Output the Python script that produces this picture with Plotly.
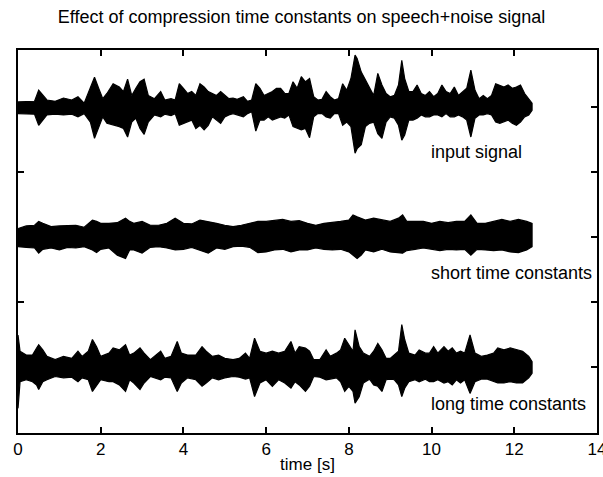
import plotly.graph_objects as go

# ---- data: envelope (upper / lower amplitude) ----
# input signal
t_in = [0.0, 0.2, 0.4, 0.5, 0.6, 0.7, 0.9, 1.1, 1.3, 1.45, 1.6, 1.75, 1.85, 1.95, 2.05, 2.15, 2.3, 2.45,
        2.55, 2.65, 2.75, 2.85, 2.95, 3.05, 3.15, 3.3, 3.45, 3.55, 3.7, 3.8, 3.9, 4.0, 4.1, 4.2, 4.3, 4.4,
        4.5, 4.6, 4.7, 4.8, 4.9, 5.0, 5.1, 5.2, 5.3, 5.45, 5.55, 5.65, 5.75, 5.85, 5.95, 6.05, 6.15, 6.25,
        6.35, 6.45, 6.55, 6.65, 6.75, 6.85, 6.95, 7.05, 7.15, 7.25, 7.35, 7.45, 7.55, 7.65, 7.75, 7.85,
        7.95, 8.05, 8.15, 8.2, 8.3, 8.4, 8.5, 8.6, 8.7, 8.8, 8.9, 9.0, 9.1, 9.2, 9.28, 9.35, 9.45, 9.55,
        9.65, 9.75, 9.85, 9.95, 10.05, 10.15, 10.25, 10.35, 10.45, 10.55, 10.65, 10.75, 10.85, 10.95,
        11.05, 11.15, 11.25, 11.35, 11.45, 11.55, 11.65, 11.75, 11.85, 11.95, 12.05, 12.15, 12.25, 12.35, 12.43]
up_in = [0.08, 0.09, 0.09, 0.26, 0.18, 0.11, 0.09, 0.14, 0.11, 0.16, 0.06, 0.29, 0.46, 0.29, 0.13, 0.21, 0.36, 0.31,
         0.24, 0.43, 0.18, 0.29, 0.39, 0.43, 0.18, 0.13, 0.24, 0.11, 0.13, 0.11, 0.36, 0.29, 0.21, 0.24, 0.18, 0.36,
         0.31, 0.24, 0.21, 0.18, 0.24, 0.18, 0.13, 0.14, 0.12, 0.16, 0.09, 0.11, 0.36, 0.29, 0.18, 0.21, 0.24, 0.29,
         0.29, 0.21, 0.21, 0.39, 0.29, 0.47, 0.39, 0.44, 0.16, 0.11, 0.12, 0.24, 0.16, 0.11, 0.13, 0.36,
         0.26, 0.44, 0.80, 0.75, 0.54, 0.42, 0.29, 0.18, 0.52, 0.34, 0.21, 0.16, 0.18, 0.34, 0.72, 0.44, 0.24, 0.24,
         0.34, 0.21, 0.18, 0.24, 0.16, 0.21, 0.34, 0.24, 0.21, 0.31, 0.18, 0.24, 0.29, 0.57,
         0.26, 0.13, 0.18, 0.13, 0.18, 0.36, 0.34, 0.31, 0.34, 0.29, 0.31, 0.34, 0.21, 0.13, 0.06]
lo_in = [0.10, 0.11, 0.11, 0.28, 0.20, 0.12, 0.11, 0.12, 0.11, 0.15, 0.10, 0.23, 0.48, 0.33, 0.15, 0.25, 0.28, 0.30,
         0.33, 0.46, 0.23, 0.17, 0.33, 0.42, 0.23, 0.12, 0.15, 0.11, 0.13, 0.10, 0.28, 0.25, 0.23, 0.20, 0.33, 0.28,
         0.35, 0.28, 0.15, 0.20, 0.25, 0.15, 0.12, 0.10, 0.12, 0.15, 0.10, 0.07, 0.37, 0.20, 0.20, 0.15, 0.20, 0.17,
         0.15, 0.17, 0.12, 0.30, 0.33, 0.35, 0.33, 0.47, 0.15, 0.10, 0.10, 0.15, 0.17, 0.10, 0.10, 0.28,
         0.23, 0.30, 0.71, 0.64, 0.58, 0.30, 0.25, 0.23, 0.41, 0.48, 0.23, 0.15, 0.17, 0.28, 0.51, 0.43, 0.20, 0.20,
         0.17, 0.12, 0.15, 0.15, 0.12, 0.12, 0.15, 0.10, 0.15, 0.15, 0.12, 0.15, 0.20, 0.46,
         0.17, 0.12, 0.12, 0.10, 0.12, 0.23, 0.25, 0.23, 0.20, 0.25, 0.28, 0.23, 0.15, 0.12, 0.05]

# short time constants
t_sh = [0.0, 0.2, 0.4, 0.5, 0.6, 0.8, 1.0, 1.2, 1.4, 1.6, 1.8, 1.9, 2.0, 2.2, 2.4, 2.6, 2.7, 2.8, 3.0, 3.2,
        3.4, 3.6, 3.8, 4.0, 4.2, 4.4, 4.6, 4.8, 5.0, 5.2, 5.4, 5.6, 5.8, 6.0, 6.2, 6.4, 6.6, 6.8, 7.0, 7.2,
        7.4, 7.6, 7.8, 8.0, 8.1, 8.2, 8.3, 8.4, 8.6, 8.8, 9.0, 9.2, 9.3, 9.4, 9.6, 9.8, 10.0, 10.2, 10.4,
        10.6, 10.8, 10.95, 11.1, 11.3, 11.5, 11.7, 11.9, 12.1, 12.3, 12.43]
up_sh = [0.13, 0.17, 0.18, 0.24, 0.21, 0.16, 0.17, 0.18, 0.18, 0.15, 0.26, 0.24, 0.21, 0.21, 0.22, 0.29, 0.24, 0.21, 0.24, 0.18,
         0.18, 0.21, 0.29, 0.21, 0.20, 0.26, 0.24, 0.21, 0.18, 0.16, 0.18, 0.21, 0.24, 0.24, 0.26, 0.27, 0.24, 0.25, 0.21, 0.18,
         0.21, 0.22, 0.24, 0.26, 0.34, 0.31, 0.29, 0.26, 0.29, 0.26, 0.24, 0.29, 0.34, 0.24, 0.24, 0.24, 0.21, 0.24, 0.22,
         0.24, 0.24, 0.34, 0.21, 0.21, 0.24, 0.27, 0.24, 0.27, 0.24, 0.21]
lo_sh = [0.15, 0.16, 0.17, 0.25, 0.19, 0.17, 0.20, 0.16, 0.17, 0.15, 0.20, 0.24, 0.19, 0.17, 0.28, 0.33, 0.20, 0.20, 0.25, 0.16,
         0.15, 0.17, 0.20, 0.19, 0.16, 0.20, 0.25, 0.17, 0.19, 0.15, 0.14, 0.16, 0.24, 0.23, 0.20, 0.19, 0.23, 0.20, 0.20, 0.17,
         0.19, 0.20, 0.19, 0.23, 0.28, 0.33, 0.28, 0.20, 0.23, 0.19, 0.23, 0.24, 0.25, 0.21, 0.19, 0.17, 0.19, 0.21, 0.19,
         0.20, 0.19, 0.28, 0.19, 0.20, 0.21, 0.20, 0.23, 0.24, 0.20, 0.15]

# long time constants
t_lg = [0.0, 0.05, 0.2, 0.35, 0.45, 0.5, 0.6, 0.7, 0.9, 1.1, 1.3, 1.45, 1.55, 1.7, 1.8, 1.9, 2.0, 2.2, 2.3, 2.45,
        2.6, 2.7, 2.8, 2.95, 3.05, 3.2, 3.45, 3.55, 3.7, 3.85, 3.95, 4.1, 4.3, 4.45, 4.55, 4.7, 4.85, 5.0, 5.2,
        5.35, 5.5, 5.6, 5.72, 5.85, 6.0, 6.15, 6.3, 6.45, 6.6, 6.7, 6.8, 6.95, 7.05, 7.15, 7.3, 7.45, 7.55, 7.7,
        7.8, 7.9, 8.0, 8.1, 8.15, 8.25, 8.35, 8.5, 8.6, 8.7, 8.8, 8.9, 9.0, 9.1, 9.2, 9.28, 9.35, 9.45, 9.6, 9.7,
        9.85, 9.95, 10.05, 10.15, 10.3, 10.4, 10.5, 10.6, 10.7, 10.8, 10.93, 11.05, 11.2, 11.35, 11.5, 11.6,
        11.75, 11.9, 12.05, 12.2, 12.35, 12.43]
up_lg = [0.49, 0.24, 0.18, 0.18, 0.29, 0.34, 0.26, 0.16, 0.11, 0.16, 0.13, 0.24, 0.16, 0.24, 0.42, 0.31, 0.16, 0.21, 0.29, 0.26,
         0.34, 0.18, 0.21, 0.29, 0.21, 0.11, 0.24, 0.13, 0.16, 0.39, 0.21, 0.18, 0.18, 0.31, 0.24, 0.16, 0.18, 0.13, 0.11,
         0.13, 0.21, 0.13, 0.44, 0.24, 0.21, 0.24, 0.21, 0.24, 0.39, 0.21, 0.31, 0.29, 0.24, 0.11, 0.11, 0.26, 0.16, 0.21,
         0.26, 0.44, 0.34, 0.24, 0.57, 0.31, 0.21, 0.16, 0.24, 0.36, 0.26, 0.13, 0.13, 0.18, 0.24, 0.65, 0.42, 0.21, 0.18, 0.26,
         0.21, 0.21, 0.31, 0.21, 0.31, 0.24, 0.29, 0.21, 0.24, 0.21, 0.49, 0.21, 0.16, 0.18, 0.21, 0.29,
         0.26, 0.29, 0.26, 0.24, 0.16, 0.08]
lo_lg = [0.64, 0.23, 0.20, 0.23, 0.28, 0.35, 0.23, 0.20, 0.15, 0.17, 0.16, 0.23, 0.17, 0.20, 0.38, 0.30, 0.20, 0.23, 0.23, 0.28,
         0.38, 0.20, 0.25, 0.35, 0.25, 0.15, 0.20, 0.16, 0.17, 0.38, 0.25, 0.17, 0.20, 0.30, 0.25, 0.17, 0.20, 0.17, 0.15,
         0.16, 0.19, 0.17, 0.46, 0.25, 0.20, 0.30, 0.20, 0.25, 0.33, 0.23, 0.28, 0.38, 0.30, 0.15, 0.16, 0.20, 0.19, 0.17,
         0.23, 0.38, 0.30, 0.38, 0.56, 0.46, 0.25, 0.19, 0.28, 0.30, 0.38, 0.20, 0.19, 0.20, 0.28, 0.46, 0.33, 0.23, 0.20, 0.23,
         0.19, 0.23, 0.23, 0.20, 0.25, 0.23, 0.28, 0.20, 0.25, 0.20, 0.41, 0.23, 0.19, 0.19, 0.23, 0.25,
         0.25, 0.23, 0.25, 0.25, 0.17, 0.10]

offsets = [4, 2, 0]          # vertical offsets of the three traces
labels = ["input signal", "short time constants", "long time constants"]
label_y = [3.31, 1.45, -0.58]
x_ticks = [0, 2, 4, 6, 8, 10, 12, 14]

series = [(t_in, up_in, lo_in), (t_sh, up_sh, lo_sh), (t_lg, up_lg, lo_lg)]

FONT = "Liberation Sans, Arial, Helvetica"

fig = go.Figure()
for (t, up, lo), off in zip(series, offsets):
    xs = list(t) + list(t)[::-1]
    ys = [off + u for u in up] + [off - l for l in lo][::-1]
    fig.add_trace(go.Scatter(x=xs, y=ys, mode="lines", fill="toself",
                             fillcolor="black", line=dict(color="black", width=1.2),
                             hoverinfo="skip", showlegend=False))

for lab, ly in zip(labels, label_y):
    fig.add_annotation(x=9.93, y=ly, text=lab, showarrow=False, xanchor="left", yanchor="middle",
                       font=dict(size=18, color="black", family=FONT))

axis_common = dict(showline=True, linecolor="black", linewidth=2, mirror="ticks",
                   ticks="inside", ticklen=6, tickwidth=1.5, tickcolor="black",
                   showgrid=False, zeroline=False, automargin=False)

fig.update_layout(
    width=603, height=477,
    margin=dict(l=18, r=6, t=50, b=44, autoexpand=False),
    paper_bgcolor="white", plot_bgcolor="white",
    font=dict(family=FONT, color="black", size=17),
    title=dict(text="Effect of compression time constants on speech+noise signal",
               x=0.5, xanchor="center", y=0.965, yanchor="middle",
               font=dict(size=18, color="black", family=FONT)),
    xaxis=dict(range=[0, 14], tickvals=x_ticks, ticktext=[str(v) for v in x_ticks],
               title=dict(text="time [s]", standoff=0, font=dict(size=17)),
               tickfont=dict(size=17), ticklabeloverflow="allow", **axis_common),
    yaxis=dict(range=[-1.02, 4.88], tickvals=[0, 1, 2, 3, 4], showticklabels=False, **axis_common),
)

fig.write_html("out.html")
